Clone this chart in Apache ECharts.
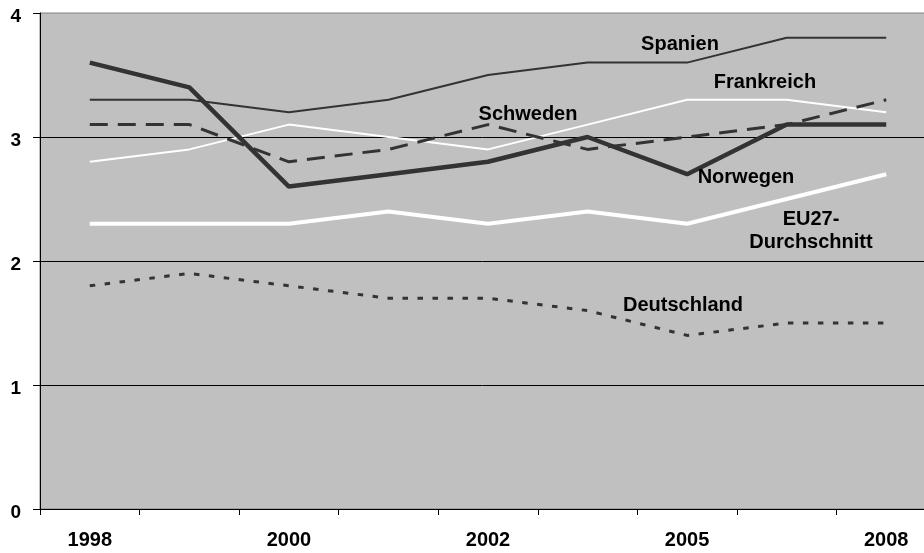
<!DOCTYPE html>
<html>
<head>
<meta charset="utf-8">
<script src="https://cdn.jsdelivr.net/npm/echarts@6/dist/echarts.min.js"></script>
<style>
html,body{margin:0;padding:0;background:#fff;}
#chart{width:924px;height:553px;}
</style>
</head>
<body>
<div id="chart"></div>
<script>
const years = ['1998','1999','2000','2001','2002','2004','2005','2007','2008'];
const yTicks = [0, 1, 2, 3, 4];

const spanien     = [3.3, 3.3, 3.2, 3.3, 3.5, 3.6, 3.6, 3.8, 3.8];
const frankreich  = [2.8, 2.9, 3.1, 3.0, 2.9, 3.1, 3.3, 3.3, 3.2];
const schweden    = [3.1, 3.1, 2.8, 2.9, 3.1, 2.9, 3.0, 3.1, 3.3];
const norwegen    = [3.6, 3.4, 2.6, 2.7, 2.8, 3.0, 2.7, 3.1, 3.1];
const eu27        = [2.3, 2.3, 2.3, 2.4, 2.3, 2.4, 2.3, 2.5, 2.7];
const deutschland = [1.8, 1.9, 1.8, 1.7, 1.7, 1.6, 1.4, 1.5, 1.5];

const FONT = '"Liberation Sans", Arial, sans-serif';
const DARK = '#333333';

function lbl(text, x, y) {
  return {
    type: 'text', x: x, y: y, z: 100,
    style: {
      text: text, fill: '#000',
      font: 'bold 20px ' + FONT,
      align: 'center', verticalAlign: 'middle',
      textAlign: 'center', textVerticalAlign: 'middle',
      lineHeight: 23
    }
  };
}

const chart = echarts.init(document.getElementById('chart'), null, {renderer: 'canvas'});
chart.setOption({
  animation: false,
  backgroundColor: '#ffffff',
  grid: {
    left: 40, top: 13, bottom: 44, right: -12,
    outerBoundsMode: 'none',
    show: true, backgroundColor: '#c0c0c0',
    borderColor: '#808080', borderWidth: 1,
    containLabel: false
  },
  xAxis: {
    type: 'category',
    data: years,
    boundaryGap: true,
    axisLine: {lineStyle: {color: '#000', width: 1}},
    axisTick: {show: true, interval: 0, length: 6, lineStyle: {color: '#000'}},
    axisLabel: {
      interval: 1, color: '#000', fontWeight: 'bold', fontSize: 20, fontFamily: FONT,
      margin: 31, verticalAlign: 'middle'
    },
    splitLine: {show: false}
  },
  yAxis: {
    type: 'value', min: yTicks[0], max: yTicks[yTicks.length - 1], interval: 1,
    axisLine: {show: true, lineStyle: {color: '#000', width: 1}},
    axisTick: {show: true, length: 7, lineStyle: {color: '#000'}},
    axisLabel: {
      margin: 19,
      formatter: '{a|{value}}',
      rich: {a: {color: '#000', fontWeight: 'bold', fontSize: 19, fontFamily: FONT, padding: [7, 0, 0, 0]}}
    },
    splitLine: {show: true, showMaxLine: false, lineStyle: {color: '#000', width: 1}}
  },
  series: [
    {name: 'Deutschland', type: 'line', data: deutschland, symbol: 'none',
     lineStyle: {color: DARK, width: 3, type: [5.5, 9.5], cap: 'butt'}},
    {name: 'EU27-Durchschnitt', type: 'line', data: eu27, symbol: 'none',
     lineStyle: {color: '#ffffff', width: 4}},
    {name: 'Frankreich', type: 'line', data: frankreich, symbol: 'none',
     lineStyle: {color: '#ffffff', width: 2}},
    {name: 'Schweden', type: 'line', data: schweden, symbol: 'none',
     lineStyle: {color: DARK, width: 3, type: [18, 10], cap: 'butt'}},
    {name: 'Spanien', type: 'line', data: spanien, symbol: 'none',
     lineStyle: {color: DARK, width: 2}},
    {name: 'Norwegen', type: 'line', data: norwegen, symbol: 'none',
     lineStyle: {color: DARK, width: 4.5}}
  ],
  graphic: [
    lbl('Spanien', 680, 44),
    lbl('Frankreich', 765, 82),
    lbl('Schweden', 528, 114),
    lbl('Norwegen', 746, 177),
    lbl('EU27-\nDurchschnitt', 811, 231),
    lbl('Deutschland', 683, 305)
  ]
});
</script>
</body>
</html>
